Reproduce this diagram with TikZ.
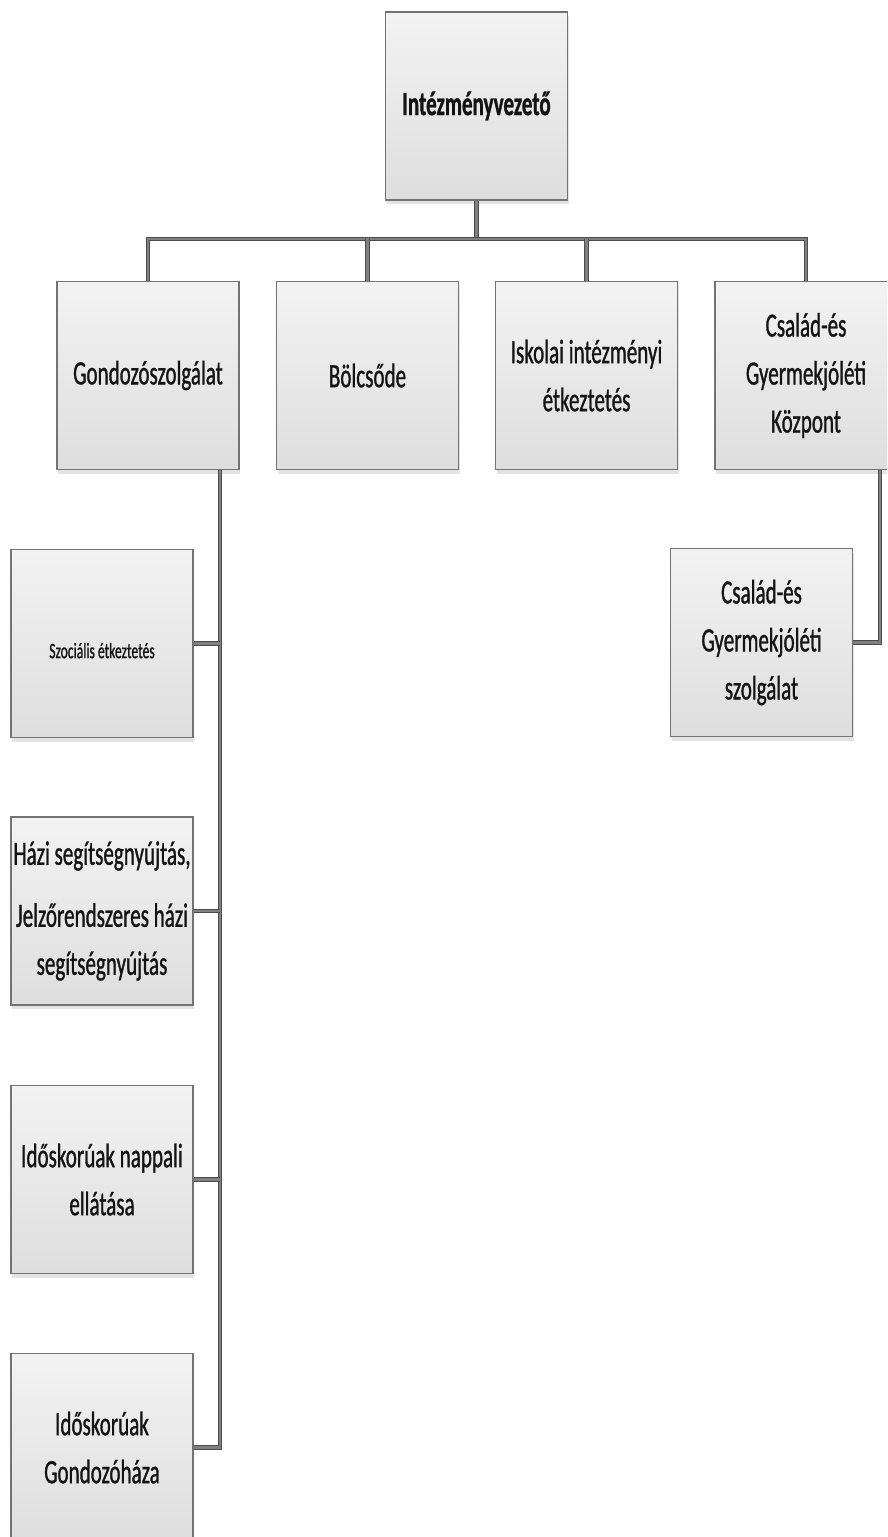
\documentclass[tikz,border=0pt]{standalone}
\usepackage{fontspec}
\usetikzlibrary{shadows}
\newfontfamily\cf[FakeStretch=0.62,FakeBold=0.9]{Carlito}
\begin{document}
\begin{tikzpicture}[x=1pt,y=-1pt,
  orgbox/.style={rectangle, draw=black!55, line width=1.1pt,
    top color=black!5, bottom color=black!13,
    minimum width=182pt, minimum height=188pt, inner sep=2pt,
    align=center, text=black!92,
    font=\cf\fontsize{34}{48}\selectfont,
    drop shadow={opacity=0.22, shadow xshift=1pt, shadow yshift=-4pt}},
  link/.style={draw=black!70, line width=1pt, double=black!50,
    double distance=2.8pt}]
\clip (0,0) rectangle (887,1537);
\fill[white] (0,0) rectangle (887,1537);

% head of the organisation
\node[orgbox, font=\cf\bfseries\fontsize{34}{48}\selectfont] (head) at (476.5,106) {Intézményvezető};

% units
\node[orgbox] (gond) at (148,375.5) {Gondozószolgálat};
\node[orgbox] (bolcs) at (367.5,375.5) {Bölcsőde};
\node[orgbox] (isk) at (586.5,375.5) {Iskolai intézményi\\étkeztetés};
\node[orgbox] (cskp) at (806,375.5) {Család-és\\Gyermekjóléti\\Központ};

% services of the Gondozószolgálat
\node[orgbox, font=\cf\fontsize{22}{30}\selectfont, text depth=0pt] (szoc) at (102,643.5) {\raisebox{-14pt}{Szociális étkeztetés}};
\node[orgbox] (hazi) at (102,911) {Házi segítségnyújtás,\\[14pt]Jelzőrendszeres házi\\segítségnyújtás};
\node[orgbox] (napp) at (102,1179.5) {Időskorúak nappali\\ellátása};
\node[orgbox] (ghaz) at (102,1447.5) {Időskorúak\\Gondozóháza};

% service of the Központ
\node[orgbox] (csgy) at (761.5,642.5) {Család-és\\Gyermekjóléti\\szolgálat};

% upper tree
\draw[link] (head.south) -- ++(0,40);
\draw[link] (gond.north) -- ++(0,-42) -| (cskp.north);
\draw[link] (bolcs.north) -- ++(0,-42);
\draw[link] (isk.north) -- ++(0,-42);

% spine below Gondozószolgálat
\coordinate (spine) at ([xshift=72pt]gond.south);
\draw[link] (spine) |- (ghaz.east);
\draw[link] (szoc.east) -- (szoc.east -| spine);
\draw[link] (hazi.east) -- (hazi.east -| spine);
\draw[link] (napp.east) -- (napp.east -| spine);

% branch below the Központ
\draw[link] ([xshift=74pt]cskp.south) |- (csgy.east);
\end{tikzpicture}
\end{document}
